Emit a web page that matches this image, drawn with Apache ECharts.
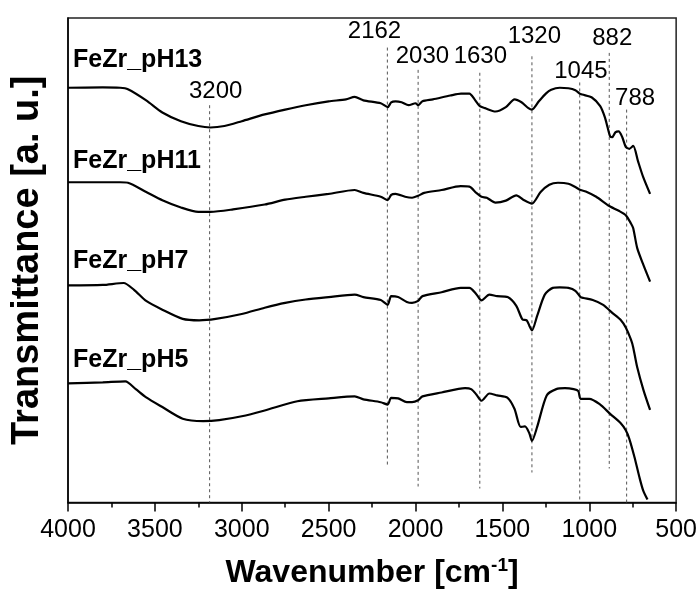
<!DOCTYPE html>
<html><head><meta charset="utf-8">
<script src="https://cdn.jsdelivr.net/npm/echarts@6/dist/echarts.min.js"></script>
<style>html,body{margin:0;padding:0;background:#fff}#c{width:700px;height:594px}</style>
</head><body><div id="c"></div>
<script>
// Wavenumber [cm-1] / transmittance [a.u., offset traces]
const pH13 = [[4000,85.6],[3800,85.7],[3700,85.6],[3655,85.3],[3550,83.0],[3457,80.5],[3350,78.7],[3250,77.7],[3180,77.4],[3100,77.7],[3000,78.7],[2868,80.1],[2750,81.1],[2632,82.0],[2500,82.8],[2400,83.2],[2350,83.7],[2300,83.0],[2200,82.4],[2160,81.6],[2140,82.6],[2115,82.8],[2080,82.6],[2040,82.0],[2000,82.4],[1985,82.0],[1960,82.8],[1900,83.2],[1800,84.0],[1738,84.4],[1690,84.4],[1660,83.2],[1630,81.8],[1600,81.4],[1540,80.7],[1480,81.6],[1430,83.2],[1390,82.6],[1350,81.4],[1330,81.1],[1290,82.8],[1250,84.4],[1219,85.2],[1170,85.6],[1120,85.5],[1080,85.1],[1055,84.4],[1040,84.2],[985,83.6],[937,81.8],[910,79.5],[895,77.5],[880,75.6],[868,75.4],[850,76.4],[831,76.6],[810,75.4],[790,73.4],[770,73.0],[747,73.6],[720,70.5],[690,67.2],[650,63.7]];
const pH11 = [[4000,66.1],[3700,66.1],[3655,66.0],[3550,64.1],[3457,62.4],[3350,60.9],[3250,60.0],[3180,60.0],[3050,60.5],[2868,61.5],[2750,62.5],[2632,63.1],[2500,63.7],[2350,64.5],[2300,63.9],[2200,63.1],[2160,62.4],[2140,63.5],[2115,63.7],[2060,63.1],[2020,62.9],[1985,63.3],[1950,63.9],[1850,64.5],[1740,65.3],[1690,65.2],[1650,63.9],[1620,63.1],[1590,62.9],[1540,61.9],[1480,62.3],[1420,63.4],[1380,62.5],[1330,61.7],[1280,64.1],[1230,65.6],[1180,66.0],[1120,65.8],[1080,65.1],[1050,64.5],[1020,64.2],[960,63.1],[890,61.3],[830,60.2],[790,59.3],[760,57.6],[747,56.6],[724,52.5],[688,49.0],[650,45.6]];
const pH7 = [[4000,44.8],[3800,44.9],[3680,45.3],[3620,43.9],[3550,41.6],[3457,39.8],[3340,37.9],[3245,37.6],[3150,37.9],[3000,38.9],[2868,40.2],[2750,41.2],[2632,41.9],[2500,42.4],[2350,42.9],[2300,42.4],[2200,41.8],[2160,40.8],[2140,42.6],[2100,42.4],[2050,41.4],[2020,41.2],[1985,41.6],[1960,42.6],[1850,43.4],[1740,44.3],[1690,44.3],[1650,43.0],[1620,41.7],[1575,42.9],[1530,42.6],[1470,42.4],[1420,40.6],[1385,37.8],[1360,37.6],[1345,36.5],[1330,35.5],[1300,38.5],[1256,42.9],[1210,44.3],[1170,44.4],[1120,44.3],[1080,43.7],[1050,42.4],[1033,42.2],[980,41.8],[920,40.8],[866,39.1],[820,37.7],[790,36.1],[760,33.6],[747,32.0],[724,27.9],[688,23.2],[650,19.1]];
const pH5 = [[4000,24.6],[3800,24.8],[3670,25.0],[3610,23.4],[3550,21.7],[3457,19.7],[3340,17.3],[3222,16.8],[3130,17.0],[3000,17.8],[2868,19.0],[2680,20.9],[2500,21.5],[2350,21.9],[2300,21.3],[2200,20.7],[2160,20.2],[2140,21.6],[2100,21.5],[2050,20.7],[2020,20.7],[1985,21.1],[1960,21.9],[1850,22.7],[1715,23.6],[1680,23.4],[1650,22.3],[1620,21.0],[1575,22.5],[1530,22.1],[1470,21.6],[1430,19.3],[1395,15.6],[1370,15.7],[1345,14.3],[1330,12.7],[1300,15.6],[1245,22.1],[1190,23.4],[1140,23.6],[1090,23.4],[1063,23.0],[1050,21.4],[1000,21.4],[940,20.3],[880,18.3],[820,16.4],[790,14.9],[770,13.2],[740,9.4],[712,5.3],[690,2.5],[665,0.6]];

const seriesNames = ['FeZr_pH13','FeZr_pH11','FeZr_pH7','FeZr_pH5'];
const seriesData = [pH13, pH11, pH7, pH5];
const seriesLabelAt = [[3971,91.4],[3971,70.5],[3971,49.8],[3971,29.3]];

// reference (dashed) lines: label, position, top, bottom
const peakLabels = ['3200','2162','2030','1630','1320','1045','882','788'];
const peakPos    = [3185, 2162, 1985, 1630, 1330, 1055, 885, 785];
const peakTop    = [82.0, 93.9, 89.3, 88.7, 92.1, 86.7, 92.8, 81.1];
const peakBottom = [0, 7.8, 3.3, 2.9, 6.2, 0, 7.0, 0];
const peakLabelAt = [[3150,84.9],[2236,97.3],[1960,92.1],[1627,92.1],[1316,96.3],[1048,89.0],[868,95.7],[736,83.4]];

const xTicks = {min:500, max:4000, interval:500};

const FONT = '"Liberation Sans", Arial, Helvetica, sans-serif';
const chart = echarts.init(document.getElementById('c'), null, {renderer:'canvas'});

const series = [];
peakPos.forEach((p,i)=>{
  series.push({type:'line', silent:true, symbol:'none', animation:false,
    data:[[p,peakTop[i]],[p,peakBottom[i]]],
    lineStyle:{color:'#555', width:1, type:[3,3]}, z:1});
});
seriesData.forEach((d,i)=>{
  series.push({type:'line', name:seriesNames[i], data:d, symbol:'none', smooth:0.25, animation:false,
    lineStyle:{color:'#000', width:2.2}, z:3});
});
series.push({type:'scatter', silent:true, symbolSize:0, animation:false, itemStyle:{opacity:1},
  data: peakLabels.map((t,i)=>({name:t, value:peakLabelAt[i]})),
  label:{show:true, position:'inside', formatter:p=>p.name, fontFamily:FONT, fontSize:24, color:'#000'}});
series.push({type:'scatter', silent:true, symbolSize:0, animation:false, itemStyle:{opacity:1},
  data: seriesNames.map((t,i)=>({name:t, value:seriesLabelAt[i]})),
  label:{show:true, position:'right', distance:0, formatter:p=>p.name, fontFamily:FONT, fontSize:25, fontWeight:'bold', color:'#000'}});

chart.setOption({
  backgroundColor:'#fff',
  animation:false,
  grid:{left:68, right:22, top:18, bottom:88, show:true, borderColor:'#222', borderWidth:1.5, backgroundColor:'transparent'},
  xAxis:{type:'value', inverse:true, min:xTicks.min, max:xTicks.max, interval:xTicks.interval,
    axisLine:{show:true, onZero:false, lineStyle:{color:'#000', width:1.5}},
    axisTick:{show:true, inside:false, length:9, lineStyle:{color:'#000', width:1.5}},
    minorTick:{show:true, splitNumber:2, length:5, lineStyle:{color:'#000', width:1.5}},
    splitLine:{show:false},
    axisLabel:{fontFamily:FONT, fontSize:25, color:'#000', margin:15, formatter:v=>String(v)},
    name:'{a|Wavenumber [cm}{s|-1}{a|]}', nameLocation:'middle', nameGap:54,
    nameTextStyle:{rich:{
      a:{fontFamily:FONT, fontSize:32, fontWeight:'bold', color:'#000'},
      s:{fontFamily:FONT, fontSize:19, fontWeight:'bold', color:'#000', verticalAlign:'top', padding:[0,0,14,0]}
    }}
  },
  yAxis:{type:'value', min:0, max:100,
    axisLine:{show:true, onZero:false, lineStyle:{color:'#000', width:1.5}},
    axisTick:{show:false}, axisLabel:{show:false}, splitLine:{show:false},
    name:'Transmittance [a. u.]', nameLocation:'middle', nameGap:21,
    nameTextStyle:{fontFamily:FONT, fontSize:38, fontWeight:'bold', color:'#000'}
  },
  series: series
});
</script></body></html>
